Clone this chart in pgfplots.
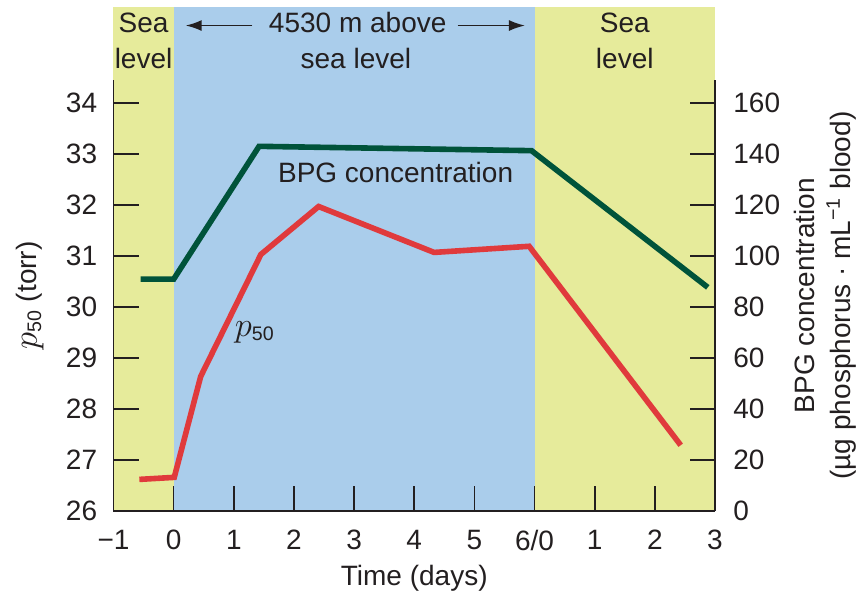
\documentclass[border=0pt]{standalone}
\usepackage{fontspec}
\setmainfont{Liberation Sans}
\usepackage{pgfplots}
\pgfplotsset{compat=1.18}
\usetikzlibrary{arrows.meta}

\definecolor{sealevel}{HTML}{E6EB9B}
\definecolor{altitude}{HTML}{AACDEB}
\definecolor{bpggreen}{HTML}{00533A}
\definecolor{pred}{HTML}{E03A3C}
\definecolor{ink}{HTML}{231F20}

\newcommand{\pfifty}{{\fontsize{18}{20}\selectfont$p$}\textsubscript{50}}

\pgfplotsset{
  base/.style={
    scale only axis, width=300.75pt, height=215.5pt,
    xmin=-1, xmax=9,
    axis line style={line width=0.8pt, ink},
    tick style={line width=0.8pt, ink},
    major tick length=12.5pt,
    /pgf/number format/assume math mode=true,
    axis on top, clip=false,
  },
}

\begin{document}
\begin{tikzpicture}[font=\fontsize{14}{18}\selectfont, text=ink]
% left axis: p50, background bands and labels
\begin{axis}[base, name=main,
  ymin=26, ymax=34.45,
  axis x line*=bottom, axis y line*=left,
  xtick={-1,...,9},
  xticklabels={−1,0,1,2,3,4,5,6/0,1,2,3},
  ytick={26,...,34},
  xticklabel style={inner sep=0pt, anchor=north, yshift=-9.5pt},
  yticklabel style={inner sep=0pt, anchor=east, xshift=-8pt},
  xlabel={Time (days)},
  ylabel={\pfifty\ (torr)},
  xlabel style={at={(axis description cs:0.5,-0.1555)}, anchor=center},
  ylabel style={at={(axis description cs:-0.1388,0.5)}, anchor=center},
]
\addplot[draw=none, fill=sealevel, forget plot] coordinates {(-1,26) (0,26) (0,35.886) (-1,35.886)};
\addplot[draw=none, fill=altitude, forget plot] coordinates {(0,26) (6,26) (6,35.886) (0,35.886)};
\addplot[draw=none, fill=sealevel, forget plot] coordinates {(6,26) (9,26) (9,35.886) (6,35.886)};

\addplot[pred, line width=2.8pt] coordinates {
  (-0.57,26.62) (0.01,26.66) (0.45,28.64) (1.45,31.03)
  (2.41,31.97) (4.33,31.07) (5.91,31.19) (8.43,27.29)
};

\node[anchor=base] at (axis cs:-0.5,35.375) {Sea};
\node[anchor=base] at (axis cs:-0.5,34.667) {level};
\node[anchor=base] at (axis cs:3.06,35.375) {4530 m above};
\node[anchor=base] at (axis cs:3.03,34.667) {sea level};
\node[anchor=base] at (axis cs:7.5,35.375) {Sea};
\node[anchor=base] at (axis cs:7.5,34.667) {level};
\draw[ink, line width=0.8pt, -{Latex[length=8pt,width=5.5pt]}] (axis cs:1.31,35.518) -- (axis cs:0.2,35.518);
\draw[ink, line width=0.8pt, -{Latex[length=8pt,width=5.5pt]}] (axis cs:4.72,35.518) -- (axis cs:5.84,35.518);

\node[anchor=base] at (axis cs:3.69,32.44) {BPG concentration};
\node[anchor=base] at (axis cs:1.35,29.42) {\pfifty};
\end{axis}

% right axis: BPG concentration
\begin{axis}[base,
  ymin=0, ymax=169,
  hide x axis,
  axis y line*=right,
  ytick={0,20,...,160},
  yticklabel style={inner sep=0pt, anchor=west, xshift=9pt},
  ylabel={BPG concentration\\(µg phosphorus · mL\textsuperscript{−1} blood)},
  ylabel style={at={(axis description cs:1.1829,0.5)}, anchor=center, align=center},
]
\addplot[bpggreen, line width=2.8pt] coordinates {
  (-0.55,90.9) (0,90.9) (1.42,143.0) (5.95,141.3) (8.88,87.7)
};
\end{axis}

\pgfresetboundingbox
\path[use as bounding box] ([xshift=-56.75pt,yshift=-41.5pt]main.south west)
  rectangle ([xshift=75pt,yshift=40pt]main.north east);
\end{tikzpicture}
\end{document}
